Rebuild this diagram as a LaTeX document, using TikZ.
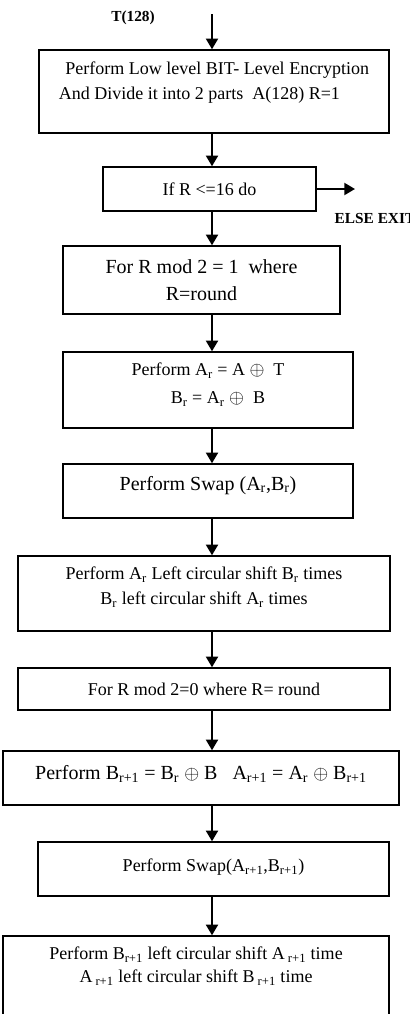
\documentclass[tikz,border=0pt]{standalone}
\usepackage{fontspec}
\setmainfont{Liberation Serif}
\usetikzlibrary{arrows.meta}

\tikzset{
    box/.style={draw,black,line width=1.1pt,align=center,inner sep=0pt,font=\fontsize{13.5}{18.75}\selectfont},
    bigbox/.style={box,font=\fontsize{15}{20.25}\selectfont},
    arr/.style={black,line width=1.5pt,-{Triangle[length=8pt,width=9pt]}},
    lbl/.style={font=\fontsize{11.5}{14}\selectfont\bfseries}
}

\begin{document}
\begin{tikzpicture}[x=0.75pt,y=-0.75pt]
            \useasboundingbox (0,0) rectangle (410,1014);
            \coordinate (ax) at (212,0);
            \coordinate (start) at (212,14);
            \coordinate (exit) at (355,189);
            \node[lbl] (tin) at (133,18){T(128)};
            \node[box,align=left,minimum width=262.5pt,minimum height=62.25pt,text depth=16.5pt] (b1) at (214,91.5){\hspace*{5pt}Perform Low level BIT- Level Encryption\\And Divide it into 2 parts~ A(128) R=1};
            \node[box,minimum width=159.75pt,minimum height=33pt] (b2) at (209.5,189){If R <=16 do};
            \node[lbl,anchor=west] (else) at (330,218){ELSE EXIT};
            \node[bigbox,minimum width=207.75pt,minimum height=51pt] (b3) at (201.5,280){For R mod 2 = 1~ where\\R=round};
            \node[box,minimum width=217.5pt,minimum height=57pt,text depth=10.5pt] (b4) at (208,390){Perform A\textsubscript{r} = A $\oplus$~ T\\[2pt]\hspace*{15pt}B\textsubscript{r} = A\textsubscript{r} $\oplus$~ B};
            \node[bigbox,minimum width=217.5pt,minimum height=40.5pt,text depth=12pt] (b5) at (208,491){Perform Swap (A\textsubscript{r},B\textsubscript{r})};
            \node[box,minimum width=279pt,minimum height=56.25pt,text depth=12pt] (b6) at (204,593.5){Perform A\textsubscript{r} Left circular shift B\textsubscript{r} times\\B\textsubscript{r} left circular shift A\textsubscript{r} times};
            \node[box,minimum width=279pt,minimum height=31.5pt] (b7) at (204,689){For R mod 2=0 where R= round};
            \node[bigbox,minimum width=297pt,minimum height=40.5pt,text depth=7.8pt] (b8) at (201,778){Perform B\textsubscript{r+1} = B\textsubscript{r} $\oplus$ B~~ A\textsubscript{r+1} = A\textsubscript{r} $\oplus$ B\textsubscript{r+1}};
            \node[box,minimum width=263.25pt,minimum height=40.5pt,text depth=6pt] (b9) at (213.5,869){Perform Swap(A\textsubscript{r+1},B\textsubscript{r+1})};
            \node[box,minimum width=289.5pt,minimum height=75pt,text depth=32pt] (b10) at (196,986){Perform B\textsubscript{r+1} left circular shift A\,\textsubscript{r+1} time\\[-1.5pt]A\,\textsubscript{r+1} left circular shift B\,\textsubscript{r+1} time};

            \draw[arr] (start) -- (b1.north -| ax);
            \draw[arr] (b1.south -| ax) -- (b2.north -| ax);
            \draw[arr] (b2.east) -- (exit);
            \draw[arr] (b2.south -| ax) -- (b3.north -| ax);
            \draw[arr] (b3.south -| ax) -- (b4.north -| ax);
            \draw[arr] (b4.south -| ax) -- (b5.north -| ax);
            \draw[arr] (b5.south -| ax) -- (b6.north -| ax);
            \draw[arr] (b6.south -| ax) -- (b7.north -| ax);
            \draw[arr] (b7.south -| ax) -- (b8.north -| ax);
            \draw[arr] (b8.south -| ax) -- (b9.north -| ax);
            \draw[arr] (b9.south -| ax) -- (b10.north -| ax);
\end{tikzpicture}
\end{document}
